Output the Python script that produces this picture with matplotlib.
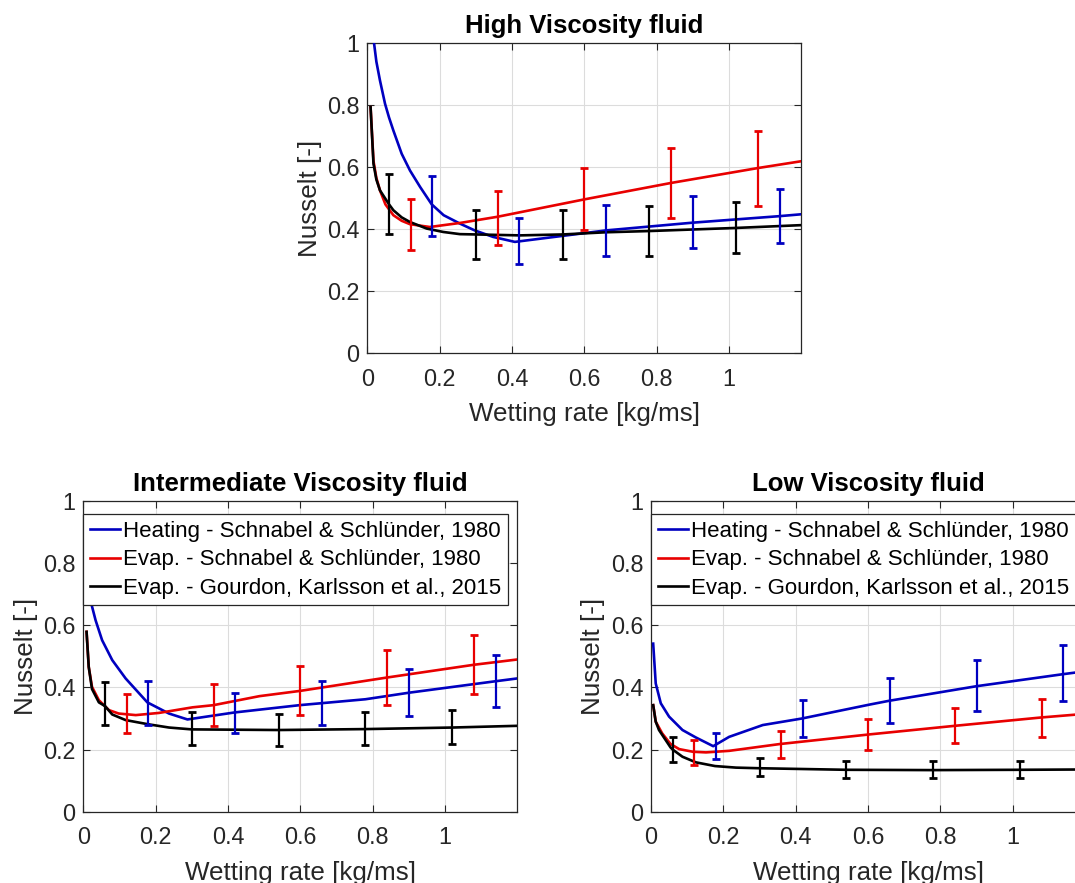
import numpy as np
import matplotlib
matplotlib.use("Agg")
import matplotlib.pyplot as plt

plt.rcParams['font.family'] = ['Liberation Sans', 'DejaVu Sans']

BLUE = '#0000C0'
RED = '#E80000'
BLACK = '#000000'
DARK = '#262626'

# ---- High viscosity fluid (top) ----
hi_blue_x = [0.010, 0.0185, 0.025, 0.035, 0.049, 0.060, 0.072, 0.095, 0.118, 0.146, 0.178, 0.211, 0.256, 0.297, 0.348, 0.408, 0.66, 0.90, 1.14, 1.2]
hi_blue_y = [1.25, 1.0, 0.94, 0.879, 0.804, 0.760, 0.718, 0.643, 0.589, 0.536, 0.480, 0.445, 0.418, 0.396, 0.375, 0.359, 0.396, 0.421, 0.442, 0.448]
hi_red_x = [0.009, 0.017, 0.025, 0.035, 0.05, 0.072, 0.095, 0.118, 0.173, 0.256, 0.36, 0.60, 0.84, 1.08, 1.2]
hi_red_y = [0.793, 0.62, 0.565, 0.525, 0.48, 0.445, 0.427, 0.416, 0.407, 0.42, 0.44, 0.496, 0.549, 0.597, 0.619]
hi_black_x = [0.009, 0.017, 0.025, 0.035, 0.06, 0.072, 0.095, 0.118, 0.164, 0.210, 0.256, 0.30, 0.422, 0.54, 0.66, 0.78, 1.02, 1.2]
hi_black_y = [0.793, 0.611, 0.56, 0.525, 0.48, 0.461, 0.438, 0.423, 0.402, 0.391, 0.384, 0.383, 0.380, 0.383, 0.390, 0.394, 0.404, 0.413]

hi_eb_black_x = [0.06, 0.30, 0.54, 0.78, 1.02]
hi_eb_black_mid = [0.4815, 0.383, 0.383, 0.3945, 0.404]
hi_eb_black_err = [0.0975, 0.078, 0.078, 0.0795, 0.082]
hi_eb_red_x = [0.12, 0.36, 0.60, 0.84, 1.08]
hi_eb_red_mid = [0.415, 0.437, 0.496, 0.5485, 0.597]
hi_eb_red_err = [0.083, 0.087, 0.100, 0.1115, 0.121]
hi_eb_blue_x = [0.18, 0.42, 0.66, 0.90, 1.14]
hi_eb_blue_mid = [0.4745, 0.362, 0.396, 0.422, 0.4425]
hi_eb_blue_err = [0.0955, 0.073, 0.081, 0.084, 0.0885]

# ---- Intermediate viscosity fluid (bottom left) ----
mid_blue_x = [0.010, 0.022, 0.034, 0.052, 0.08, 0.117, 0.177, 0.237, 0.288, 0.418, 0.598, 0.78, 0.90, 1.14, 1.2]
mid_blue_y = [0.85, 0.67, 0.616, 0.552, 0.488, 0.429, 0.352, 0.316, 0.297, 0.3195, 0.343, 0.362, 0.383, 0.42, 0.429]
mid_red_x = [0.009, 0.015, 0.024, 0.043, 0.071, 0.098, 0.145, 0.209, 0.302, 0.36, 0.487, 0.60, 0.84, 1.08, 1.2]
mid_red_y = [0.579, 0.466, 0.402, 0.359, 0.327, 0.316, 0.311, 0.318, 0.336, 0.343, 0.372, 0.389, 0.432, 0.473, 0.49]
mid_black_x = [0.009, 0.015, 0.024, 0.043, 0.06, 0.08, 0.117, 0.177, 0.237, 0.30, 0.54, 0.78, 1.02, 1.2]
mid_black_y = [0.579, 0.466, 0.395, 0.352, 0.340, 0.313, 0.295, 0.282, 0.271, 0.265, 0.263, 0.266, 0.271, 0.2765]

mid_eb_black_x = [0.06, 0.30, 0.54, 0.78, 1.02]
mid_eb_black_mid = [0.3475, 0.267, 0.263, 0.267, 0.272]
mid_eb_black_err = [0.0695, 0.053, 0.053, 0.053, 0.055]
mid_eb_red_x = [0.12, 0.36, 0.60, 0.84, 1.08]
mid_eb_red_mid = [0.315, 0.343, 0.389, 0.432, 0.473]
mid_eb_red_err = [0.063, 0.068, 0.079, 0.087, 0.095]
mid_eb_blue_x = [0.18, 0.42, 0.66, 0.90, 1.14]
mid_eb_blue_mid = [0.349, 0.3175, 0.349, 0.3825, 0.42]
mid_eb_blue_err = [0.071, 0.0635, 0.071, 0.0755, 0.084]

# ---- Low viscosity fluid (bottom right) ----
lo_blue_x = [0.006, 0.013, 0.027, 0.05, 0.087, 0.124, 0.172, 0.216, 0.309, 0.417, 0.605, 0.658, 0.90, 1.141, 1.2]
lo_blue_y = [0.541, 0.413, 0.349, 0.306, 0.263, 0.239, 0.211, 0.241, 0.279, 0.30, 0.345, 0.357, 0.404, 0.443, 0.452]
lo_red_x = [0.006, 0.013, 0.031, 0.054, 0.078, 0.116, 0.152, 0.216, 0.357, 0.605, 0.84, 1.08, 1.2]
lo_red_y = [0.343, 0.29, 0.252, 0.218, 0.2015, 0.193, 0.191, 0.196, 0.218, 0.249, 0.2765, 0.3035, 0.315]
lo_black_x = [0.006, 0.013, 0.022, 0.054, 0.06, 0.087, 0.124, 0.177, 0.235, 0.30, 0.54, 0.78, 1.02, 1.2]
lo_black_y = [0.343, 0.29, 0.263, 0.207, 0.200, 0.177, 0.159, 0.147, 0.142, 0.140, 0.135, 0.134, 0.135, 0.136]

lo_eb_black_x = [0.06, 0.30, 0.54, 0.78, 1.02]
lo_eb_black_mid = [0.1995, 0.144, 0.135, 0.135, 0.135]
lo_eb_black_err = [0.0405, 0.029, 0.028, 0.028, 0.028]
lo_eb_red_x = [0.12, 0.36, 0.60, 0.84, 1.08]
lo_eb_red_mid = [0.191, 0.216, 0.248, 0.2765, 0.302]
lo_eb_red_err = [0.039, 0.0435, 0.050, 0.0565, 0.060]
lo_eb_blue_x = [0.18, 0.42, 0.66, 0.90, 1.14]
lo_eb_blue_mid = [0.212, 0.2995, 0.3565, 0.405, 0.4455]
lo_eb_blue_err = [0.043, 0.0595, 0.0725, 0.082, 0.0905]

legend_labels = ['Heating - Schnabel & Schlünder, 1980',
                 'Evap. - Schnabel & Schlünder, 1980',
                 'Evap. - Gourdon, Karlsson et al., 2015']
xticks = [0, 0.2, 0.4, 0.6, 0.8, 1.0]
xticklabels = ['0', '0.2', '0.4', '0.6', '0.8', '1']
yticks = [0, 0.2, 0.4, 0.6, 0.8, 1.0]
yticklabels = ['0', '0.2', '0.4', '0.6', '0.8', '1']


def draw_panel(ax, title, lines, bars, legend=False):
    handles = []
    for (x, y, c) in lines:
        h, = ax.plot(x, y, color=c, lw=1.9, zorder=3)
        handles.append(h)
    for (x, m, e, c) in bars:
        ax.errorbar(x, m, yerr=e, fmt='none', ecolor=c, elinewidth=1.6,
                    capsize=3.2, capthick=2.0, zorder=4)
    ax.set_xlim(0, 1.2)
    ax.set_ylim(0, 1)
    ax.set_xticks(xticks)
    ax.set_xticklabels(xticklabels)
    ax.set_yticks(yticks)
    ax.set_yticklabels(yticklabels)
    ax.tick_params(direction='in', length=5, width=0.8, colors=DARK,
                   labelsize=16.8, top=True, right=True)
    ax.tick_params(axis='x', pad=10.5)
    ax.tick_params(axis='y', pad=5.5)
    for s in ax.spines.values():
        s.set_color(DARK)
        s.set_linewidth(0.9)
    ax.grid(True, color='#dcdcdc', lw=0.8)
    ax.set_axisbelow(True)
    ax.set_title(title, fontsize=18.5, fontweight='bold', pad=7)
    ax.set_xlabel('Wetting rate [kg/ms]', fontsize=18.7, color=DARK)
    ax.set_ylabel('Nusselt [-]', fontsize=18.7, color=DARK, va='center')
    ax.xaxis.set_label_coords(0.5, -0.158)
    ax.yaxis.set_label_coords(-0.133, 0.5)
    if legend:
        leg = ax.legend(handles, legend_labels, loc='upper left',
                        bbox_to_anchor=(0, 0.957), borderaxespad=0,
                        fontsize=16, fancybox=False, framealpha=1,
                        edgecolor=DARK, handlelength=1.35, handletextpad=0.15,
                        borderpad=0.3, labelspacing=0.33)
        leg.get_frame().set_linewidth(0.9)
        leg.set_zorder(10)


fig = plt.figure(figsize=(10.75, 8.83), dpi=100)

ax1 = fig.add_axes([0.3417, 0.5999, 0.4037, 0.3514])
draw_panel(ax1, 'High Viscosity fluid',
           [(hi_blue_x, hi_blue_y, BLUE), (hi_red_x, hi_red_y, RED), (hi_black_x, hi_black_y, BLACK)],
           [(hi_eb_black_x, hi_eb_black_mid, hi_eb_black_err, BLACK),
            (hi_eb_red_x, hi_eb_red_mid, hi_eb_red_err, RED),
            (hi_eb_blue_x, hi_eb_blue_mid, hi_eb_blue_err, BLUE)])

ax2 = fig.add_axes([0.0775, 0.0807, 0.4037, 0.3519])
draw_panel(ax2, 'Intermediate Viscosity fluid',
           [(mid_blue_x, mid_blue_y, BLUE), (mid_red_x, mid_red_y, RED), (mid_black_x, mid_black_y, BLACK)],
           [(mid_eb_black_x, mid_eb_black_mid, mid_eb_black_err, BLACK),
            (mid_eb_red_x, mid_eb_red_mid, mid_eb_red_err, RED),
            (mid_eb_blue_x, mid_eb_blue_mid, mid_eb_blue_err, BLUE)], legend=True)

ax3 = fig.add_axes([0.6056, 0.0807, 0.4037, 0.3519])
draw_panel(ax3, 'Low Viscosity fluid',
           [(lo_blue_x, lo_blue_y, BLUE), (lo_red_x, lo_red_y, RED), (lo_black_x, lo_black_y, BLACK)],
           [(lo_eb_black_x, lo_eb_black_mid, lo_eb_black_err, BLACK),
            (lo_eb_red_x, lo_eb_red_mid, lo_eb_red_err, RED),
            (lo_eb_blue_x, lo_eb_blue_mid, lo_eb_blue_err, BLUE)], legend=True)

fig.savefig('out.png', dpi=100)
